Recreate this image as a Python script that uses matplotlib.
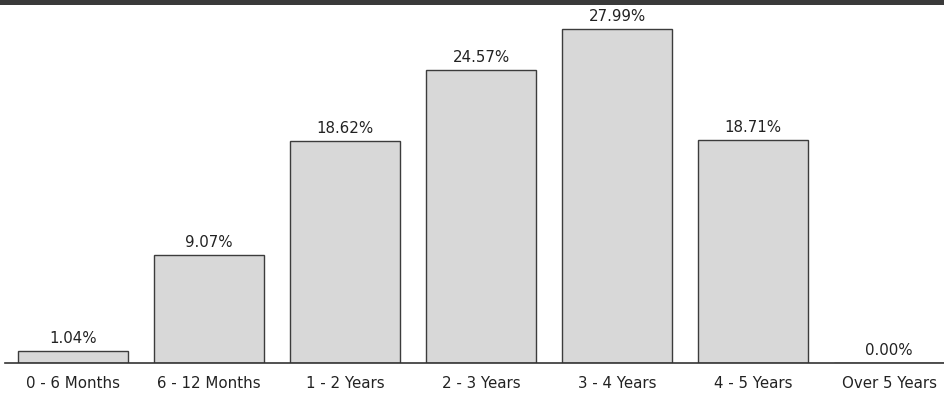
import matplotlib.pyplot as plt
from matplotlib.patches import Rectangle

categories = ['0 - 6 Months', '6 - 12 Months', '1 - 2 Years', '2 - 3 Years',
              '3 - 4 Years', '4 - 5 Years', 'Over 5 Years']
shares = [1.04, 9.07, 18.62, 24.57, 27.99, 18.71, 0.00]

fig = plt.figure(figsize=(9.45, 3.95), dpi=100)
ax = fig.add_axes([5 / 945, 32 / 395, 940 / 945, 358 / 395])

# dark strip along the top edge
fig.patches.append(Rectangle((0, 1 - 5 / 395), 1, 5 / 395, transform=fig.transFigure,
                             facecolor='#3a3a3a', edgecolor='none'))

x = range(len(categories))
bars = ax.bar(x, shares, width=0.81, color='#d8d8d8', edgecolor='#3c3c3c', linewidth=1)

for rect, v in zip(bars, shares):
    ax.text(rect.get_x() + rect.get_width() / 2, v + 0.4, f'{v:.2f}%',
            ha='center', va='bottom', fontsize=10.8, color='#222222')

ax.set_xlim(-0.5, 6.41)
ax.set_ylim(0, 30)
ax.set_xticks(list(x))
ax.set_xticklabels(categories, fontsize=10.8, color='#222222')
ax.tick_params(axis='x', length=0, pad=9)
ax.set_yticks([])
for side in ('top', 'right', 'left'):
    ax.spines[side].set_visible(False)
ax.spines['bottom'].set_color('#333333')
ax.spines['bottom'].set_linewidth(1.2)

fig.savefig('out.png', dpi=100)
